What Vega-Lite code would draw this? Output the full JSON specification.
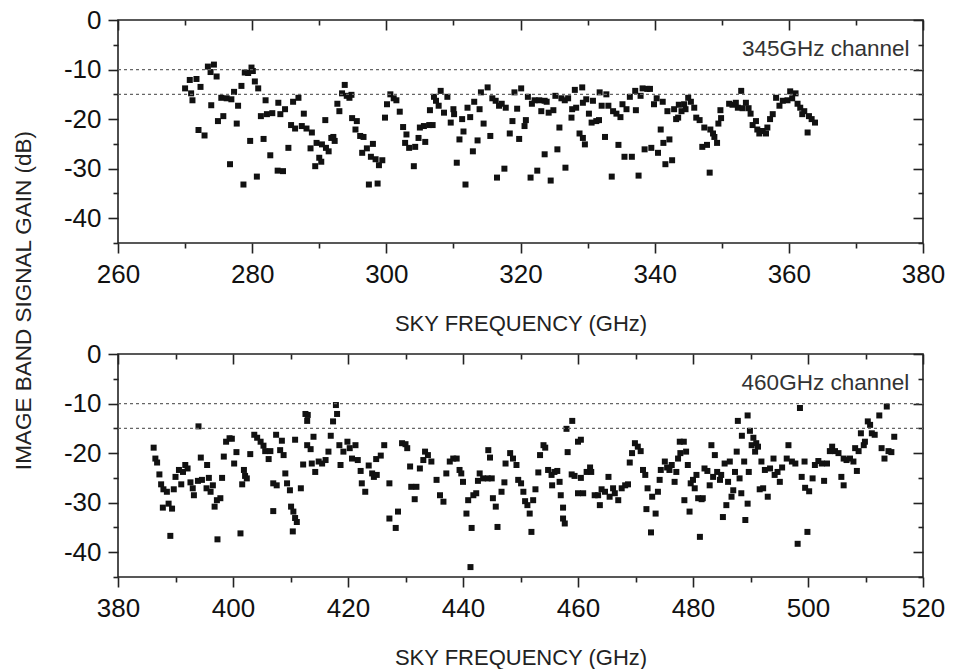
{
"$schema": "https://vega.github.io/schema/vega-lite/v6.json",
"padding": {"left": 11, "top": 6, "right": 30, "bottom": 5},
"background": "white",
"config": {
 "view": {"stroke": "#222", "strokeWidth": 1.6},
 "axis": {"labelFont": "Liberation Sans", "titleFont": "Liberation Sans", "labelFontSize": 26, "titleFontSize": 22, "labelColor": "#111", "titleColor": "#222", "titleFontWeight": "normal", "tickColor": "#222", "tickWidth": 1.6, "domain": false, "grid": false, "labelFlush": false, "labelOverlap": false}
},
"datasets": {
 "ref": [{"g": -10}, {"g": -15}],
 "p345": [
{"f":270.0,"g":-13.8},{"f":270.7,"g":-12.1},{"f":271.7,"g":-11.9},{"f":270.9,"g":-14.8},{"f":271.1,"g":-16.2},{"f":272.3,"g":-13.5},{"f":272.0,"g":-22.2},{"f":272.9,"g":-23.3},{"f":273.4,"g":-9.4},{"f":274.3,"g":-9.0},{"f":273.8,"g":-10.5},{"f":274.7,"g":-11.4},{"f":273.9,"g":-17.2},{"f":274.9,"g":-20.4},{"f":275.7,"g":-19.4},{"f":275.4,"g":-15.7},{"f":276.2,"g":-15.8},{"f":276.9,"g":-16.0},{"f":276.7,"g":-29.1},{"f":277.3,"g":-14.5},{"f":277.9,"g":-17.3},{"f":277.7,"g":-20.9},{"f":278.4,"g":-13.3},{"f":278.7,"g":-33.2},{"f":278.9,"g":-10.6},{"f":279.4,"g":-10.7},{"f":279.9,"g":-9.6},{"f":280.1,"g":-10.3},{"f":280.4,"g":-12.4},{"f":280.9,"g":-13.8},{"f":279.7,"g":-24.4},{"f":280.7,"g":-31.6},{"f":281.7,"g":-24.0},{"f":282.0,"g":-16.2},{"f":281.3,"g":-19.4},{"f":282.2,"g":-19.0},{"f":282.7,"g":-27.3},{"f":283.0,"g":-18.8},{"f":283.9,"g":-16.7},{"f":283.8,"g":-30.4},{"f":284.2,"g":-19.0},{"f":284.6,"g":-30.5},{"f":284.9,"g":-18.0},{"f":285.4,"g":-25.8},{"f":285.8,"g":-21.2},{"f":286.4,"g":-21.9},{"f":286.1,"g":-16.5},{"f":286.9,"g":-15.7},{"f":287.4,"g":-21.4},{"f":287.7,"g":-18.9},{"f":288.1,"g":-21.9},{"f":288.9,"g":-22.7},{"f":288.7,"g":-25.9},{"f":289.4,"g":-29.5},{"f":289.6,"g":-24.8},{"f":290.0,"g":-27.8},{"f":290.3,"g":-28.6},{"f":290.4,"g":-25.1},{"f":290.9,"g":-20.2},{"f":291.0,"g":-25.8},{"f":291.4,"g":-26.5},{"f":291.8,"g":-23.8},{"f":292.3,"g":-24.4},{"f":292.1,"g":-23.6},{"f":292.7,"g":-16.9},{"f":293.0,"g":-18.4},{"f":293.4,"g":-14.8},{"f":293.8,"g":-13.1},{"f":294.1,"g":-15.3},{"f":294.5,"g":-15.7},{"f":294.8,"g":-15.1},{"f":294.9,"g":-19.8},{"f":295.6,"g":-20.4},{"f":295.4,"g":-22.1},{"f":296.1,"g":-23.4},{"f":296.6,"g":-23.6},{"f":296.4,"g":-26.8},{"f":297.1,"g":-25.9},{"f":297.4,"g":-33.2},{"f":298.0,"g":-25.0},{"f":297.7,"g":-27.6},{"f":298.4,"g":-28.1},{"f":298.9,"g":-29.3},{"f":299.4,"g":-28.3},{"f":298.7,"g":-33.0},{"f":299.8,"g":-19.7},{"f":300.1,"g":-17.0},{"f":300.6,"g":-15.0},
{"f":301.1,"g":-15.8},{"f":301.5,"g":-16.2},{"f":302.0,"g":-18.5},{"f":302.5,"g":-21.6},{"f":303.0,"g":-23.1},{"f":302.8,"g":-24.8},{"f":303.4,"g":-25.8},{"f":304.3,"g":-25.6},{"f":304.1,"g":-29.5},{"f":304.8,"g":-23.8},{"f":305.0,"g":-21.7},{"f":305.6,"g":-21.4},{"f":305.8,"g":-24.6},{"f":306.4,"g":-21.2},{"f":306.9,"g":-21.2},{"f":306.5,"g":-18.2},{"f":307.1,"g":-15.5},{"f":307.4,"g":-16.3},{"f":308.1,"g":-14.3},{"f":307.8,"g":-17.3},{"f":308.6,"g":-18.7},{"f":309.1,"g":-15.5},{"f":309.6,"g":-20.7},{"f":310.0,"g":-18.0},{"f":310.1,"g":-19.0},{"f":310.5,"g":-28.8},{"f":310.9,"g":-24.1},{"f":311.3,"g":-20.0},{"f":311.5,"g":-22.5},{"f":311.8,"g":-33.2},{"f":312.1,"g":-17.7},{"f":312.5,"g":-19.6},{"f":312.9,"g":-26.5},{"f":313.1,"g":-16.5},{"f":313.6,"g":-24.3},{"f":313.9,"g":-18.0},{"f":314.1,"g":-14.6},{"f":314.5,"g":-20.9},{"f":315.1,"g":-13.6},{"f":315.5,"g":-23.4},{"f":315.8,"g":-15.8},{"f":316.3,"g":-16.3},{"f":316.5,"g":-31.8},{"f":316.8,"g":-17.3},{"f":317.2,"g":-16.9},{"f":317.6,"g":-30.0},{"f":317.8,"g":-17.7},{"f":318.4,"g":-22.9},{"f":318.8,"g":-20.4},{"f":319.1,"g":-14.6},{"f":319.5,"g":-17.9},{"f":319.8,"g":-24.0},{"f":320.1,"g":-13.8},{"f":320.6,"g":-21.4},{"f":320.8,"g":-20.2},{"f":321.1,"g":-15.5},{"f":321.5,"g":-31.8},{"f":321.7,"g":-16.9},{"f":322.1,"g":-16.2},{"f":322.5,"g":-30.4},{"f":322.8,"g":-16.2},{"f":323.1,"g":-18.4},{"f":323.6,"g":-16.3},{"f":323.6,"g":-27.1},{"f":323.9,"g":-16.5},{"f":324.2,"g":-18.7},{"f":324.5,"g":-32.4},{"f":324.9,"g":-18.2},{"f":325.2,"g":-15.3},{"f":325.5,"g":-26.1},{"f":325.8,"g":-21.7},{"f":326.1,"g":-15.8},{"f":326.6,"g":-16.2},{"f":326.7,"g":-29.8},{"f":327.1,"g":-15.8},{"f":327.6,"g":-19.7},{"f":327.7,"g":-18.0},{"f":328.1,"g":-14.1},{"f":328.3,"g":-17.7},{"f":328.8,"g":-22.9},{"f":329.2,"g":-13.6},{"f":329.3,"g":-23.8},{"f":329.6,"g":-25.1},{"f":329.3,"g":-16.7},{"f":329.8,"g":-16.0},{"f":330.2,"g":-18.9},{"f":330.6,"g":-20.7},{"f":330.8,"g":-16.3},{"f":331.3,"g":-20.4},{"f":331.7,"g":-20.2},{"f":331.8,"g":-14.6},{"f":332.1,"g":-17.3},{"f":332.6,"g":-23.6},{"f":332.8,"g":-15.0},{"f":333.1,"g":-17.3},{"f":333.6,"g":-31.6},{"f":333.8,"g":-18.4},{"f":334.3,"g":-18.9},{"f":334.6,"g":-25.2},{"f":334.9,"g":-19.6},{"f":335.2,"g":-17.0},{"f":335.5,"g":-27.6},{"f":335.8,"g":-18.0},{"f":336.6,"g":-27.6},{"f":336.3,"g":-15.5},{"f":337.1,"g":-14.3},{"f":337.2,"g":-18.2},{"f":337.6,"g":-31.4},{"f":337.9,"g":-15.3},{"f":338.2,"g":-13.8},{"f":338.5,"g":-26.1},{"f":338.9,"g":-13.9},{"f":339.3,"g":-13.9},{"f":339.5,"g":-25.8},{"f":339.9,"g":-17.0},{"f":340.3,"g":-15.8},{"f":340.5,"g":-26.8},{"f":340.9,"g":-22.1},{"f":341.2,"g":-16.5},{"f":341.3,"g":-24.8},
{"f":341.6,"g":-29.1},{"f":341.9,"g":-18.4},{"f":342.2,"g":-24.1},{"f":342.6,"g":-28.3},{"f":342.9,"g":-18.0},{"f":343.2,"g":-20.0},{"f":343.5,"g":-19.7},{"f":343.6,"g":-17.1},{"f":344.0,"g":-18.4},{"f":344.4,"g":-17.0},{"f":344.6,"g":-18.0},{"f":345.0,"g":-15.7},{"f":345.4,"g":-16.5},{"f":345.9,"g":-17.7},{"f":346.2,"g":-19.7},{"f":346.7,"g":-20.2},{"f":347.1,"g":-25.6},{"f":347.4,"g":-21.7},{"f":347.8,"g":-25.2},{"f":348.2,"g":-30.8},{"f":348.3,"g":-22.1},{"f":348.7,"g":-22.9},{"f":348.9,"g":-23.6},{"f":349.3,"g":-24.8},{"f":349.5,"g":-20.9},{"f":349.9,"g":-19.8},{"f":349.8,"g":-18.2},{"f":351.1,"g":-16.9},{"f":351.6,"g":-17.1},{"f":352.1,"g":-16.7},{"f":352.4,"g":-17.7},{"f":352.9,"g":-14.3},{"f":353.1,"g":-17.8},{"f":353.6,"g":-16.7},{"f":354.0,"g":-17.8},{"f":354.3,"g":-18.9},{"f":354.6,"g":-21.2},{"f":355.1,"g":-20.4},{"f":355.3,"g":-22.1},{"f":355.6,"g":-22.9},{"f":356.1,"g":-22.4},{"f":356.6,"g":-22.9},{"f":356.8,"g":-21.7},{"f":357.2,"g":-20.0},{"f":357.6,"g":-19.0},{"f":358.1,"g":-15.7},{"f":358.6,"g":-17.3},{"f":359.1,"g":-16.3},{"f":359.8,"g":-16.2},{"f":360.2,"g":-14.4},{"f":360.5,"g":-15.8},{"f":361.0,"g":-14.8},{"f":361.3,"g":-16.9},{"f":361.7,"g":-17.7},{"f":362.0,"g":-19.0},{"f":362.3,"g":-18.4},{"f":362.8,"g":-22.7},{"f":363.0,"g":-19.4},{"f":363.4,"g":-20.0},{"f":363.9,"g":-20.7}
 ],
 "p460": [
{"f":386.2,"g":-18.9},{"f":386.5,"g":-21.1},{"f":386.8,"g":-21.9},{"f":387.2,"g":-24.3},{"f":387.5,"g":-26.3},{"f":387.9,"g":-27.3},{"f":387.8,"g":-31.0},{"f":388.5,"g":-27.8},{"f":388.8,"g":-30.2},{"f":389.4,"g":-31.2},{"f":389.1,"g":-36.7},{"f":389.7,"g":-27.3},{"f":390.0,"g":-24.8},{"f":390.6,"g":-23.4},{"f":391.0,"g":-26.3},{"f":391.3,"g":-23.8},{"f":391.7,"g":-22.4},{"f":392.1,"g":-23.1},{"f":392.6,"g":-25.9},{"f":393.2,"g":-28.5},{"f":393.0,"g":-27.1},{"f":393.9,"g":-25.6},{"f":394.0,"g":-14.6},{"f":394.4,"g":-20.9},{"f":394.6,"g":-25.4},{"f":395.4,"g":-27.1},{"f":395.5,"g":-22.4},{"f":395.8,"g":-25.0},{"f":396.1,"g":-27.8},{"f":396.5,"g":-26.5},{"f":396.8,"g":-30.8},{"f":397.3,"g":-37.4},{"f":397.2,"g":-29.5},{"f":397.8,"g":-29.1},{"f":398.1,"g":-25.0},{"f":398.4,"g":-20.7},{"f":398.8,"g":-17.7},{"f":399.4,"g":-17.0},{"f":399.8,"g":-17.1},{"f":400.2,"g":-22.1},{"f":400.6,"g":-19.8},{"f":401.3,"g":-36.2},{"f":401.6,"g":-26.3},{"f":401.9,"g":-23.4},{"f":402.1,"g":-24.6},{"f":402.4,"g":-25.1},{"f":403.0,"g":-20.2},{"f":403.7,"g":-16.3},{"f":404.2,"g":-16.9},{"f":404.8,"g":-17.7},{"f":405.3,"g":-18.5},{"f":405.6,"g":-19.6},{"f":406.2,"g":-21.2},{"f":406.5,"g":-19.6},{"f":407.0,"g":-26.1},{"f":407.6,"g":-26.5},{"f":407.0,"g":-31.7},{"f":407.5,"g":-16.3},{"f":408.2,"g":-19.4},{"f":408.5,"g":-17.5},{"f":408.8,"g":-20.4},{"f":409.1,"g":-24.1},{"f":409.4,"g":-26.1},{"f":409.9,"g":-27.5},{"f":410.1,"g":-30.8},{"f":410.5,"g":-31.8},{"f":410.8,"g":-33.1},{"f":411.1,"g":-33.9},{"f":410.4,"g":-35.8},{"f":410.8,"g":-17.3},{"f":411.8,"g":-27.1},{"f":412.2,"g":-22.3},{"f":412.6,"g":-12.1},{"f":413.0,"g":-12.3},{"f":412.9,"g":-13.5},{"f":412.9,"g":-18.4},{"f":413.5,"g":-19.2},{"f":413.7,"g":-22.1},{"f":414.0,"g":-16.7},{"f":414.3,"g":-23.8},{"f":414.9,"g":-21.7},{"f":415.5,"g":-22.1},{"f":416.1,"g":-21.4},{"f":416.6,"g":-19.7},{"f":417.0,"g":-16.5},{"f":417.4,"g":-13.6},{"f":417.9,"g":-10.3},{"f":418.1,"g":-12.1},{"f":418.5,"g":-18.4},{"f":418.7,"g":-22.4},{"f":419.2,"g":-19.7},{"f":419.9,"g":-17.7},{"f":420.3,"g":-19.0},{"f":420.7,"g":-21.1},{"f":421.3,"g":-18.4},{"f":421.7,"g":-21.4},{"f":422.2,"g":-23.6},{"f":422.4,"g":-26.1},{"f":423.0,"g":-27.8},{"f":423.6,"g":-22.5},{"f":424.2,"g":-24.1},{"f":424.5,"g":-24.8},{"f":425.0,"g":-24.4},{"f":424.9,"g":-21.2},{"f":425.7,"g":-20.5},{"f":426.3,"g":-18.4},{"f":427.2,"g":-26.1},{"f":427.2,"g":-33.2},
{"f":428.3,"g":-35.1},{"f":428.7,"g":-31.8},{"f":429.4,"g":-18.0},{"f":430.0,"g":-18.2},{"f":430.3,"g":-19.0},{"f":430.8,"g":-22.7},{"f":431.0,"g":-26.8},{"f":431.6,"g":-29.3},{"f":431.9,"g":-26.8},{"f":432.5,"g":-23.1},{"f":433.1,"g":-21.4},{"f":433.4,"g":-19.7},{"f":433.9,"g":-20.4},{"f":434.5,"g":-21.7},{"f":435.4,"g":-25.4},{"f":436.0,"g":-28.5},{"f":436.6,"g":-29.8},{"f":437.1,"g":-24.1},{"f":437.7,"g":-21.7},{"f":438.3,"g":-21.1},{"f":438.9,"g":-21.1},{"f":439.4,"g":-23.4},{"f":440.0,"g":-25.8},{"f":439.7,"g":-24.1},{"f":440.6,"g":-32.2},{"f":440.9,"g":-29.5},{"f":441.5,"g":-35.1},{"f":441.3,"g":-43.0},{"f":441.8,"g":-28.5},{"f":442.3,"g":-28.1},{"f":442.6,"g":-25.6},{"f":442.9,"g":-24.1},{"f":443.5,"g":-25.1},{"f":444.3,"g":-25.1},{"f":444.4,"g":-19.4},{"f":444.7,"g":-20.9},{"f":445.0,"g":-25.1},{"f":445.2,"g":-29.1},{"f":445.7,"g":-30.8},{"f":446.0,"g":-34.9},{"f":446.7,"g":-27.8},{"f":447.2,"g":-25.9},{"f":447.4,"g":-22.1},{"f":448.2,"g":-20.0},{"f":448.7,"g":-21.1},{"f":449.3,"g":-22.4},{"f":449.6,"g":-25.4},{"f":450.1,"g":-26.1},{"f":450.5,"g":-27.8},{"f":450.8,"g":-29.7},{"f":451.2,"g":-30.5},{"f":451.6,"g":-32.2},{"f":451.9,"g":-35.9},{"f":452.2,"g":-29.5},{"f":452.6,"g":-27.3},{"f":453.1,"g":-23.9},{"f":453.4,"g":-20.4},{"f":454.0,"g":-18.4},{"f":454.3,"g":-18.9},{"f":454.8,"g":-23.4},{"f":455.4,"g":-24.4},{"f":455.5,"g":-26.5},{"f":455.9,"g":-23.8},{"f":456.4,"g":-23.6},{"f":456.8,"g":-25.8},{"f":457.0,"g":-28.5},{"f":457.4,"g":-31.0},{"f":457.4,"g":-33.2},{"f":457.7,"g":-34.2},{"f":458.2,"g":-19.8},{"f":458.0,"g":-15.1},{"f":459.0,"g":-13.5},{"f":458.9,"g":-24.3},{"f":459.4,"g":-24.6},{"f":460.0,"g":-17.7},{"f":460.5,"g":-17.3},{"f":460.0,"g":-28.1},{"f":460.5,"g":-25.0},{"f":460.9,"g":-28.1},{"f":461.5,"g":-23.8},{"f":462.1,"g":-22.9},{"f":462.3,"g":-23.8},{"f":462.9,"g":-28.5},{"f":463.5,"g":-28.5},{"f":463.8,"g":-30.5},{"f":464.1,"g":-27.3},{"f":464.7,"g":-27.8},{"f":465.3,"g":-24.8},{"f":465.5,"g":-28.8},{"f":466.1,"g":-27.1},{"f":466.4,"g":-28.1},{"f":467.0,"g":-29.5},{"f":467.6,"g":-27.1},{"f":468.2,"g":-26.5},{"f":468.7,"g":-26.3},{"f":469.0,"g":-21.9},{"f":469.4,"g":-20.0},{"f":469.9,"g":-18.0},{"f":470.4,"g":-18.7},{"f":470.9,"g":-19.6},{"f":471.3,"g":-23.4},{"f":471.7,"g":-24.4},{"f":472.1,"g":-27.1},{"f":471.9,"g":-31.3},{"f":472.7,"g":-36.0},{"f":472.9,"g":-28.8},{"f":473.5,"g":-32.2},{"f":473.9,"g":-27.8},{"f":474.4,"g":-23.4},
{"f":474.2,"g":-25.4},{"f":475.1,"g":-21.7},{"f":475.5,"g":-22.9},{"f":475.9,"g":-23.4},{"f":476.3,"g":-22.4},{"f":476.8,"g":-25.8},{"f":477.1,"g":-23.8},{"f":477.4,"g":-21.1},{"f":477.7,"g":-17.7},{"f":477.8,"g":-20.0},{"f":478.4,"g":-17.7},{"f":478.8,"g":-19.7},{"f":479.1,"g":-22.4},{"f":478.5,"g":-29.5},{"f":479.4,"g":-31.8},{"f":479.6,"g":-26.1},{"f":480.0,"g":-25.4},{"f":480.3,"g":-27.1},{"f":480.6,"g":-24.4},{"f":480.9,"g":-29.1},{"f":481.2,"g":-36.9},{"f":481.5,"g":-29.3},{"f":481.7,"g":-29.1},{"f":482.0,"g":-23.1},{"f":482.5,"g":-23.6},{"f":482.9,"g":-26.5},{"f":483.2,"g":-18.4},{"f":483.5,"g":-24.8},{"f":483.8,"g":-20.4},{"f":484.2,"g":-23.8},{"f":484.7,"g":-25.4},{"f":484.9,"g":-24.4},{"f":485.2,"g":-32.9},{"f":485.5,"g":-22.1},{"f":485.8,"g":-30.5},{"f":486.1,"g":-25.8},{"f":486.4,"g":-21.7},{"f":486.7,"g":-28.8},{"f":487.0,"g":-27.5},{"f":487.3,"g":-23.8},{"f":487.6,"g":-19.7},{"f":487.8,"g":-13.5},{"f":488.1,"g":-25.1},{"f":488.4,"g":-28.1},{"f":488.5,"g":-16.5},{"f":488.9,"g":-21.7},{"f":489.1,"g":-33.5},{"f":489.5,"g":-12.4},{"f":489.5,"g":-30.2},{"f":489.7,"g":-23.8},{"f":489.9,"g":-15.5},{"f":490.2,"g":-18.4},{"f":490.5,"g":-16.9},{"f":490.8,"g":-19.7},{"f":491.0,"g":-18.0},{"f":491.3,"g":-18.7},{"f":491.6,"g":-27.3},{"f":491.9,"g":-21.7},{"f":492.2,"g":-27.1},{"f":492.5,"g":-23.4},{"f":493.0,"g":-28.8},{"f":493.4,"g":-23.1},{"f":494.0,"g":-21.1},{"f":494.2,"g":-24.4},{"f":494.7,"g":-23.8},{"f":495.1,"g":-25.8},{"f":495.5,"g":-22.9},{"f":496.3,"g":-21.1},{"f":496.6,"g":-18.4},{"f":497.2,"g":-21.7},{"f":497.8,"g":-22.1},{"f":498.2,"g":-38.3},{"f":498.6,"g":-10.9},{"f":498.9,"g":-24.8},{"f":499.4,"g":-21.7},{"f":499.5,"g":-27.0},{"f":499.9,"g":-35.9},{"f":500.2,"g":-27.7},{"f":500.8,"g":-25.1},{"f":501.2,"g":-22.4},{"f":501.8,"g":-21.6},{"f":502.4,"g":-22.1},{"f":502.8,"g":-25.6},{"f":503.3,"g":-22.1},{"f":503.8,"g":-19.6},{"f":504.2,"g":-18.7},{"f":504.7,"g":-19.6},{"f":505.3,"g":-20.0},{"f":505.8,"g":-24.8},{"f":506.2,"g":-26.5},{"f":506.2,"g":-21.1},{"f":506.7,"g":-21.4},{"f":507.3,"g":-21.1},{"f":507.9,"g":-21.7},{"f":508.5,"g":-23.6},{"f":508.2,"g":-19.0},{"f":508.8,"g":-19.6},{"f":509.2,"g":-16.0},{"f":509.7,"g":-18.4},{"f":509.9,"g":-17.7},{"f":510.4,"g":-13.6},{"f":510.8,"g":-14.3},{"f":511.1,"g":-16.0},{"f":511.6,"g":-16.3},{"f":512.4,"g":-12.4},{"f":512.8,"g":-19.0},{"f":513.3,"g":-21.1},{"f":513.7,"g":-10.6},{"f":514.0,"g":-19.6},{"f":514.5,"g":-19.8},{"f":515.0,"g":-16.7}
 ]
},
"spacing": 111,
"bounds": "flush",
"vconcat": [
 {
  "width": 805, "height": 223,
  "layer": [
   {"data": {"name": "p345"},
    "mark": {"type": "point", "shape": "square", "filled": true, "color": "#111", "opacity": 1, "size": 36},
    "encoding": {
     "x": {"field": "f", "type": "quantitative", "scale": {"domain": [260, 380], "nice": false, "zero": false},
      "axis": {"orient": "bottom", "values": [260,270,280,290,300,310,320,330,340,350,360,370,380], "labelExpr": "datum.value % 20 === 0 ? toString(datum.value) : ''", "tickSize": {"condition": {"test": "datum.value % 20 === 0", "value": 10}, "value": 5}, "labelPadding": 8, "title": "SKY FREQUENCY (GHz)", "titlePadding": 26}},
     "y": {"field": "g", "type": "quantitative", "scale": {"domain": [-45, 0], "nice": false, "zero": false},
      "axis": {"orient": "left", "values": [0,-5,-10,-15,-20,-25,-30,-35,-40,-45], "labelExpr": "datum.value % 10 === 0 ? toString(datum.value) : ''", "tickSize": {"condition": {"test": "datum.value % 10 === 0", "value": 10}, "value": 5}, "labelPadding": 7, "title": "IMAGE BAND SIGNAL GAIN (dB)", "titleFontSize": 22.5, "titleAngle": -90, "titleBaseline": "middle", "titleAlign": "center", "titleX": -95, "titleY": 280}}
    }},
   {"data": {"name": "ref"},
    "mark": {"type": "rule", "color": "#666", "strokeDash": [3, 3], "strokeWidth": 1.2},
    "encoding": {
     "x": {"datum": 260, "type": "quantitative", "axis": {"orient": "top", "values": [260,270,280,290,300,310,320,330,340,350,360,370,380], "labels": false, "title": null, "tickSize": {"condition": {"test": "datum.value % 20 === 0", "value": -10}, "value": -5}}},
     "x2": {"datum": 380},
     "y": {"field": "g", "type": "quantitative", "axis": {"orient": "right", "values": [0,-5,-10,-15,-20,-25,-30,-35,-40,-45], "labels": false, "title": null, "tickSize": {"condition": {"test": "datum.value % 10 === 0", "value": -10}, "value": -5}}}
    }},
   {"data": {"values": [{}]},
    "mark": {"type": "text", "align": "right", "baseline": "alphabetic", "fontSize": 22.5, "font": "Liberation Sans", "color": "#333"},
    "encoding": {
     "x": {"datum": 378, "type": "quantitative", "axis": null},
     "y": {"datum": -7.3, "type": "quantitative", "axis": null},
     "text": {"value": "345GHz channel"}
    }}
  ],
  "resolve": {"axis": {"x": "independent", "y": "independent"}}
 },
 {
  "width": 805, "height": 223,
  "layer": [
   {"data": {"name": "p460"},
    "mark": {"type": "point", "shape": "square", "filled": true, "color": "#111", "opacity": 1, "size": 36},
    "encoding": {
     "x": {"field": "f", "type": "quantitative", "scale": {"domain": [380, 520], "nice": false, "zero": false},
      "axis": {"orient": "bottom", "values": [380,390,400,410,420,430,440,450,460,470,480,490,500,510,520], "labelExpr": "datum.value % 20 === 0 ? toString(datum.value) : ''", "tickSize": {"condition": {"test": "datum.value % 20 === 0", "value": 10}, "value": 5}, "labelPadding": 8, "title": "SKY FREQUENCY (GHz)", "titlePadding": 26}},
     "y": {"field": "g", "type": "quantitative", "scale": {"domain": [-45, 0], "nice": false, "zero": false},
      "axis": {"orient": "left", "values": [0,-5,-10,-15,-20,-25,-30,-35,-40,-45], "labelExpr": "datum.value % 10 === 0 ? toString(datum.value) : ''", "tickSize": {"condition": {"test": "datum.value % 10 === 0", "value": 10}, "value": 5}, "labelPadding": 7, "title": null}}
    }},
   {"data": {"name": "ref"},
    "mark": {"type": "rule", "color": "#666", "strokeDash": [3, 3], "strokeWidth": 1.2},
    "encoding": {
     "x": {"datum": 380, "type": "quantitative", "axis": {"orient": "top", "values": [380,390,400,410,420,430,440,450,460,470,480,490,500,510,520], "labels": false, "title": null, "tickSize": {"condition": {"test": "datum.value % 20 === 0", "value": -10}, "value": -5}}},
     "x2": {"datum": 520},
     "y": {"field": "g", "type": "quantitative", "axis": {"orient": "right", "values": [0,-5,-10,-15,-20,-25,-30,-35,-40,-45], "labels": false, "title": null, "tickSize": {"condition": {"test": "datum.value % 10 === 0", "value": -10}, "value": -5}}}
    }},
   {"data": {"values": [{}]},
    "mark": {"type": "text", "align": "right", "baseline": "alphabetic", "fontSize": 22.5, "font": "Liberation Sans", "color": "#333"},
    "encoding": {
     "x": {"datum": 517.6, "type": "quantitative", "axis": null},
     "y": {"datum": -7.3, "type": "quantitative", "axis": null},
     "text": {"value": "460GHz channel"}
    }}
  ],
  "resolve": {"axis": {"x": "independent", "y": "independent"}}
 }
]
}
